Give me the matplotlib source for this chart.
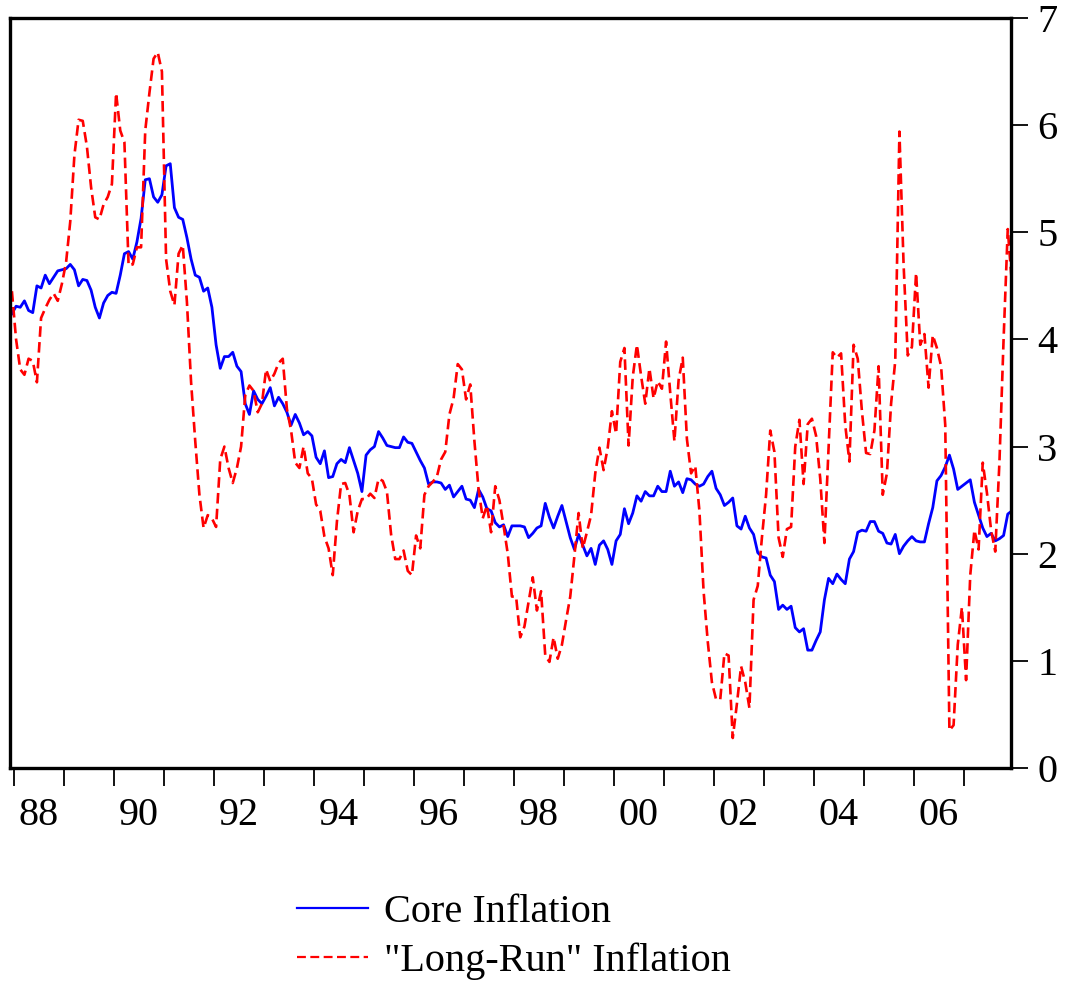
import numpy as np
import matplotlib
matplotlib.use("Agg")
import matplotlib.pyplot as plt

plt.rcParams['font.family'] = ['Liberation Serif', 'DejaVu Serif']

# Monthly observations, Dec 1987 .. Dec 2007
start_year, start_month = 1987, 12

core = [
    4.24, 4.31, 4.30, 4.36, 4.27, 4.25, 4.50, 4.48, 4.60, 4.52, 4.58, 4.64,
    4.65, 4.66, 4.70, 4.65, 4.50, 4.56, 4.55, 4.46, 4.30, 4.20, 4.34, 4.41,
    4.44, 4.43, 4.60, 4.80, 4.82, 4.75, 4.91, 5.13, 5.49, 5.50, 5.33, 5.28,
    5.35, 5.62, 5.64, 5.23, 5.14, 5.12, 4.95, 4.75, 4.60, 4.58, 4.45, 4.48,
    4.30, 3.95, 3.73, 3.84, 3.84, 3.88, 3.75, 3.70, 3.40, 3.30, 3.52, 3.44,
    3.40, 3.47, 3.55, 3.38, 3.46, 3.40, 3.32, 3.20, 3.30, 3.22, 3.11, 3.14,
    3.10, 2.90, 2.84, 2.96, 2.71, 2.72, 2.84, 2.88, 2.85, 2.99, 2.87, 2.75,
    2.58, 2.92, 2.97, 3.00, 3.14, 3.08, 3.01, 3.00, 2.99, 2.99, 3.09, 3.04,
    3.03, 2.95, 2.87, 2.80, 2.65, 2.67, 2.67, 2.66, 2.60, 2.64, 2.53, 2.58,
    2.63, 2.51, 2.50, 2.43, 2.60, 2.53, 2.42, 2.40, 2.29, 2.25, 2.27, 2.16,
    2.26, 2.26, 2.26, 2.25, 2.15, 2.19, 2.24, 2.26, 2.47, 2.34, 2.24, 2.35,
    2.45, 2.30, 2.15, 2.04, 2.18, 2.08, 1.98, 2.05, 1.90, 2.08, 2.12, 2.04,
    1.90, 2.12, 2.18, 2.42, 2.28, 2.38, 2.54, 2.49, 2.58, 2.54, 2.54, 2.63,
    2.58, 2.58, 2.77, 2.63, 2.67, 2.57, 2.70, 2.69, 2.65, 2.63, 2.65, 2.72,
    2.77, 2.61, 2.55, 2.45, 2.48, 2.52, 2.26, 2.23, 2.35, 2.24, 2.18, 2.01,
    1.97, 1.96, 1.80, 1.74, 1.48, 1.52, 1.48, 1.51, 1.31, 1.27, 1.30, 1.10,
    1.10, 1.19, 1.27, 1.57, 1.77, 1.72, 1.81, 1.76, 1.72, 1.95, 2.02, 2.20,
    2.22, 2.21, 2.30, 2.30, 2.21, 2.19, 2.10, 2.09, 2.18, 2.00, 2.07, 2.12,
    2.16, 2.12, 2.11, 2.11, 2.28, 2.43, 2.68, 2.73, 2.81, 2.92, 2.79, 2.60,
    2.63, 2.66, 2.69, 2.48, 2.36, 2.24, 2.16, 2.19, 2.12, 2.14, 2.17, 2.37,
    2.40,
]

longrun = [
    4.45, 4.00, 3.72, 3.67, 3.82, 3.80, 3.60, 4.20, 4.29, 4.37, 4.43, 4.36,
    4.52, 4.72, 5.10, 5.72, 6.05, 6.04, 5.80, 5.42, 5.14, 5.12, 5.26, 5.33,
    5.45, 6.30, 5.95, 5.84, 4.69, 4.70, 4.86, 4.86, 5.95, 6.30, 6.62, 6.68,
    6.50, 4.75, 4.45, 4.32, 4.80, 4.88, 4.35, 3.60, 3.05, 2.55, 2.24, 2.36,
    2.33, 2.25, 2.88, 3.00, 2.80, 2.66, 2.80, 3.00, 3.48, 3.57, 3.52, 3.32,
    3.40, 3.72, 3.61, 3.68, 3.78, 3.82, 3.35, 3.15, 2.85, 2.80, 3.00, 2.75,
    2.70, 2.46, 2.40, 2.16, 2.05, 1.80, 2.30, 2.65, 2.66, 2.55, 2.20, 2.40,
    2.51, 2.51, 2.56, 2.52, 2.70, 2.68, 2.58, 2.18, 1.95, 1.95, 2.03, 1.84,
    1.80, 2.17, 2.05, 2.55, 2.63, 2.67, 2.72, 2.88, 2.95, 3.30, 3.45, 3.77,
    3.72, 3.44, 3.58, 3.05, 2.60, 2.33, 2.45, 2.20, 2.63, 2.50, 2.26, 2.00,
    1.60, 1.60, 1.22, 1.32, 1.55, 1.78, 1.47, 1.65, 1.05, 0.99, 1.22, 1.02,
    1.15, 1.38, 1.60, 1.98, 2.38, 2.05, 2.20, 2.36, 2.75, 2.99, 2.78, 2.99,
    3.33, 3.12, 3.79, 3.92, 3.01, 3.65, 3.95, 3.66, 3.40, 3.73, 3.45, 3.61,
    3.54, 3.98, 3.50, 3.05, 3.62, 3.83, 3.07, 2.75, 2.82, 2.40, 1.65, 1.18,
    0.80, 0.64, 0.64, 1.07, 1.05, 0.28, 0.60, 0.95, 0.80, 0.56, 1.57, 1.70,
    2.15, 2.55, 3.15, 2.95, 2.15, 1.97, 2.23, 2.25, 3.00, 3.25, 2.65, 3.21,
    3.26, 3.10, 2.70, 2.10, 2.98, 3.88, 3.83, 3.87, 3.20, 2.86, 3.95, 3.82,
    3.33, 2.94, 2.93, 3.15, 3.75, 2.55, 2.75, 3.40, 3.80, 5.94, 4.70, 3.85,
    3.93, 4.62, 3.95, 4.05, 3.55, 4.04, 3.92, 3.75, 3.20, 0.35, 0.40, 1.15,
    1.50, 0.82, 1.80, 2.22, 2.04, 2.85, 2.57, 2.22, 2.02, 2.85, 4.00, 5.03,
    4.52,
]

tick_years = list(range(1988, 2008))
label_years = list(range(1988, 2008, 2))
tick_labels = ["88", "90", "92", "94", "96", "98", "00", "02", "04", "06"]
y_ticks = [0, 1, 2, 3, 4, 5, 6, 7]

n = len(core)
# decimal-year position of each monthly observation (plotted mid-month)
t = np.array([start_year + (start_month - 1 + k + 0.5) / 12.0 for k in range(n)])

fig = plt.figure(figsize=(10.65, 9.85), dpi=100)
ax = fig.add_axes([10 / 1065, 217 / 985, 1001 / 1065, 750 / 985])

ax.plot(t, core, color='#0000ff', lw=2.0, label='Core Inflation')
ax.plot(t, longrun, color='#ff0000', lw=1.9, ls=(0, (4, 2)), label='"Long-Run" Inflation')

ax.set_xlim(1987.92, 2007.94)
ax.set_ylim(0, 7)

for s in ax.spines.values():
    s.set_linewidth(2.4)
    s.set_color('black')

ax.yaxis.tick_right()
ax.set_yticks(y_ticks)
ax.set_yticklabels([str(v) for v in y_ticks])
ax.tick_params(axis='y', which='major', direction='out', length=12, width=1.3,
               pad=7, labelsize=29, right=True, left=False)

ax.set_xticks(tick_years)
ax.set_xticklabels([])
ax.set_xticks([y + 0.5 for y in label_years], minor=True)
ax.set_xticklabels(tick_labels, minor=True)
ax.tick_params(axis='x', which='major', direction='out', length=13, width=1.3,
               bottom=True, top=False)
ax.tick_params(axis='x', which='minor', length=0, pad=21, labelsize=29)

leg = fig.legend(loc='center', bbox_to_anchor=(514 / 1065, 1 - 937 / 985),
                 frameon=False, fontsize=29, handlelength=1.75, handletextpad=0.4,
                 labelspacing=0.28, borderpad=0)
for line in leg.get_lines():
    line.set_linewidth(1.6)

fig.savefig('out.png', dpi=100)
